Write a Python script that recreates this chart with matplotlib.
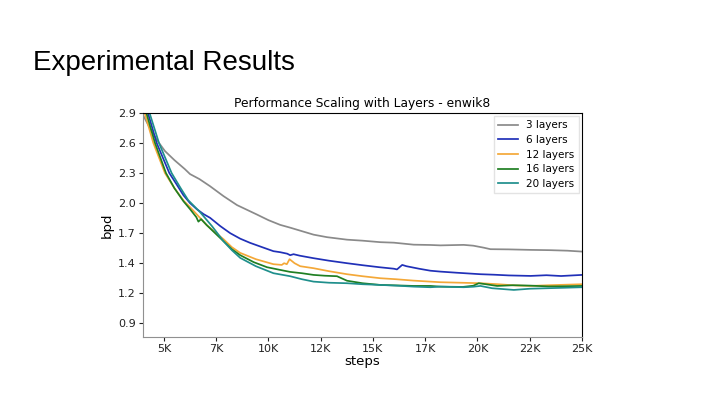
import numpy as np
import matplotlib
matplotlib.use('Agg')
import matplotlib.pyplot as plt

# ── 数据 ──
steps_3 = [4000, 4300, 4700, 5050, 5500, 6000, 6250, 6700, 7200, 7850, 8500, 9450, 10000,
           10560, 11040, 11600, 12160, 12800, 13760, 14500, 15350, 16000, 16950, 17750,
           18230, 19340, 19800, 20300, 20620, 21500, 22540, 23500, 24300, 25000]
bpd_3 = [2.88, 2.76, 2.62, 2.52, 2.43, 2.34, 2.29, 2.24, 2.17, 2.07, 1.98, 1.886, 1.83,
         1.783, 1.755, 1.72, 1.685, 1.66, 1.635, 1.625, 1.61, 1.605, 1.585, 1.582,
         1.578, 1.583, 1.575, 1.555, 1.54, 1.538, 1.533, 1.53, 1.525, 1.516]

steps_6 = [4000, 4255, 4655, 5260, 5600, 5930, 6250, 6570, 6900, 7210, 7700, 8170, 8650,
           9125, 9700, 10240, 10560, 10900, 11040, 11200, 11500, 12160, 12900, 13760,
           14500, 15300, 16000, 16150, 16400, 16600, 17200, 17750, 18230, 19000, 20140,
           20800, 21500, 22540, 23300, 24000, 25000]
bpd_6 = [3.0, 2.886, 2.60, 2.30, 2.19, 2.08, 2.00, 1.94, 1.89, 1.853, 1.77, 1.70, 1.645,
         1.603, 1.56, 1.52, 1.51, 1.495, 1.48, 1.49, 1.475, 1.45, 1.425, 1.40,
         1.38, 1.36, 1.345, 1.338, 1.383, 1.37, 1.345, 1.325, 1.316, 1.305, 1.29,
         1.285, 1.278, 1.273, 1.28, 1.272, 1.283]

steps_12 = [4000, 4100, 4495, 5050, 5500, 5960, 6250, 6650, 7050, 7500, 7850, 8250, 8650,
            9400, 10240, 10640, 10750, 10880, 11010, 11250, 11520, 12160, 12900, 13760,
            14500, 15350, 16100, 16950, 17750, 18230, 19200, 20140, 21000, 21800, 22540,
            23400, 24200, 25000]
bpd_12 = [2.92, 2.886, 2.60, 2.30, 2.15, 2.02, 1.96, 1.87, 1.78, 1.70, 1.64, 1.56, 1.503,
          1.44, 1.39, 1.383, 1.40, 1.39, 1.44, 1.40, 1.37, 1.35, 1.32, 1.29,
          1.27, 1.25, 1.24, 1.226, 1.216, 1.21, 1.205, 1.20, 1.19, 1.178, 1.173,
          1.18, 1.185, 1.19]

steps_16 = [4000, 4180, 4575, 5100, 5500, 5930, 6250, 6550, 6650, 6780, 7050, 7450, 7850,
            8250, 8650, 9300, 9930, 10560, 11040, 11600, 12160, 12700, 13280, 13760, 14500,
            15350, 16200, 16950, 17750, 18230, 19300, 19800, 20060, 20400, 20940, 21700,
            22540, 23400, 24200, 25000]
bpd_16 = [2.99, 2.886, 2.60, 2.30, 2.15, 2.02, 1.94, 1.86, 1.815, 1.84, 1.78, 1.70, 1.62,
          1.54, 1.48, 1.41, 1.36, 1.333, 1.313, 1.30, 1.283, 1.275, 1.27, 1.225, 1.20,
          1.183, 1.178, 1.173, 1.173, 1.166, 1.163, 1.175, 1.20, 1.19, 1.173, 1.18,
          1.176, 1.168, 1.17, 1.173]

steps_20 = [4000, 4335, 4765, 5370, 5800, 6160, 6730, 7300, 7850, 8250, 8650, 9400, 10240,
            11040, 11600, 12160, 12900, 13760, 14500, 15350, 16200, 16950, 17750, 18230,
            19340, 19800, 20140, 20700, 21740, 22500, 23340, 24200, 25000]
bpd_20 = [3.05, 2.886, 2.60, 2.30, 2.15, 2.03, 1.91, 1.77, 1.62, 1.53, 1.453, 1.37, 1.30,
          1.27, 1.24, 1.216, 1.205, 1.20, 1.19, 1.183, 1.175, 1.166, 1.16, 1.166,
          1.16, 1.165, 1.173, 1.15, 1.133, 1.145, 1.15, 1.155, 1.16]

series_labels = ['3 layers', '6 layers', '12 layers', '16 layers', '20 layers']
series_colors = ['#8a8a8a', '#2030b8', '#f4a838', '#1f7f22', '#1f8f8c']

x_ticks = [5000, 7500, 10000, 12500, 15000, 17500, 20000, 22500, 25000]
x_ticklabels = ['5K', '7K', '10K', '12K', '15K', '17K', '20K', '22K', '25K']
y_ticks = [2.9, 2.6, 2.3, 2.0, 1.7, 1.4, 1.1, 0.8]
y_ticklabels = ['2.9', '2.6', '2.3', '2.0', '1.7', '1.4', '1.2', '0.9']

# ── 画图 ──
fig = plt.figure(figsize=(7.2, 4.05), dpi=100)
fig.patch.set_facecolor('white')

# 幻灯片标题
fig.text(33 / 720, 1 - 70 / 405, 'Experimental Results', family='Liberation Sans',
         fontsize=20, color='black', va='baseline', ha='left')

ax = fig.add_axes([143 / 720, 68 / 405, 439 / 720, 224 / 405])

all_steps = [steps_3, steps_6, steps_12, steps_16, steps_20]
all_bpd = [bpd_3, bpd_6, bpd_12, bpd_16, bpd_20]
for s, b, lab, col in zip(all_steps, all_bpd, series_labels, series_colors):
    ax.plot(s, b, color=col, lw=1.25, label=lab)

ax.set_xlim(4000, 25000)
ax.set_ylim(0.663, 2.9)
ax.set_xticks(x_ticks)
ax.set_xticklabels(x_ticklabels)
ax.set_yticks(y_ticks)
ax.set_yticklabels(y_ticklabels)
ax.tick_params(labelsize=8, length=3, width=0.8, colors='#222222', pad=2)

for side in ['left', 'bottom']:
    ax.spines[side].set_color('#909090')
for side in ['top', 'right']:
    ax.spines[side].set_color('black')

ax.set_title('Performance Scaling with Layers - enwik8', fontsize=8.8, pad=4)
ax.set_xlabel('steps', fontsize=9.5, labelpad=1)
ax.set_ylabel('bpd', fontsize=9.5, labelpad=3)

ax.legend(loc='upper right', fontsize=7.5, frameon=True, handlelength=1.9,
          borderpad=0.4, labelspacing=0.45, fancybox=False, edgecolor='#dddddd',
          bbox_to_anchor=(1.0, 1.0), borderaxespad=0.3)

plt.savefig('out.png', dpi=100)
plt.close()
